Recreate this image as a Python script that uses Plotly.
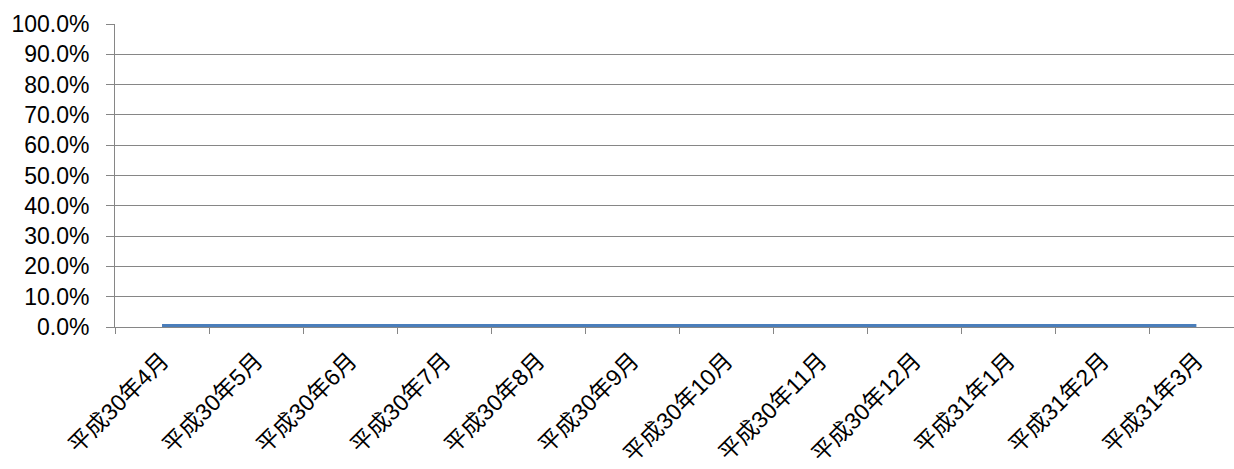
import plotly.graph_objects as go

# Monthly rate, fiscal year H30 (Apr 2018 - Mar 2019)
months = ["平成30年4月", "平成30年5月", "平成30年6月", "平成30年7月", "平成30年8月",
          "平成30年9月", "平成30年10月", "平成30年11月", "平成30年12月",
          "平成31年1月", "平成31年2月", "平成31年3月"]
rates = [0.0, 0.0, 0.0, 0.0, 0.0, 0.0, 0.0, 0.0, 0.0, 0.0, 0.0, 0.0]
y_ticks = [0.0, 0.1, 0.2, 0.3, 0.4, 0.5, 0.6, 0.7, 0.8, 0.9, 1.0]

FONT = "Liberation Sans, Noto Sans CJK JP, sans-serif"
GRID = "#868686"

fig = go.Figure(
    go.Scatter(
        x=months, y=rates, mode="lines",
        line=dict(color="#4A7EBB", width=6),
        cliponaxis=False,
    )
)

fig.update_layout(
    width=1234, height=469,
    margin=dict(l=115, r=0, t=24, b=142),
    paper_bgcolor="white", plot_bgcolor="white",
    showlegend=False,
    font=dict(family=FONT, size=23, color="black"),
)

fig.update_xaxes(
    type="category",
    range=[-0.5, 11.4],
    tickson="boundaries",
    ticks="outside", ticklen=6, tickcolor=GRID,
    tickangle=-45,
    tickfont=dict(size=23),
    showgrid=False,
    showline=True, linecolor=GRID, linewidth=1,
    ticklabelstandoff=10,
    automargin=False,
    layer="below traces",
)

fig.update_yaxes(
    range=[0, 1],
    tickvals=y_ticks,
    tickformat=".1%",
    ticks="outside", ticklen=8, tickcolor=GRID,
    showgrid=True, gridcolor=GRID, gridwidth=1,
    showline=True, linecolor=GRID, linewidth=1,
    zeroline=False,
    ticklabelstandoff=12,
    automargin=False,
    layer="below traces",
)

fig.write_html("out.html")
